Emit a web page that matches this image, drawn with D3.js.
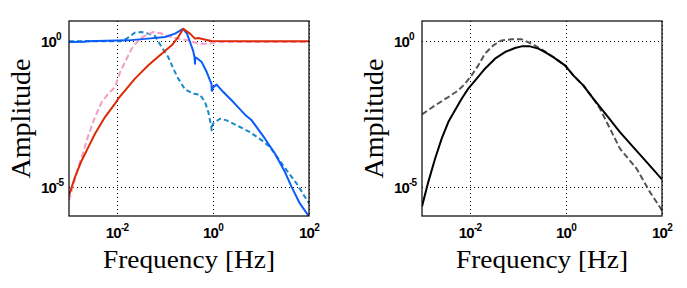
<!DOCTYPE html>
<html>
<head>
<meta charset="utf-8">
<script src="https://cdn.jsdelivr.net/npm/d3@7/dist/d3.min.js"></script>
<style>
  body { margin: 0; background: #fff; }
</style>
</head>
<body>
<svg id="chart" width="687" height="288"></svg>
<script>
// [frequency (Hz), amplitude]

// left panel
const blueSolid = [
    [1e-3, 0.95], [2.1e-3, 0.96], [2.2e-3, 1.0], [0.0169, 1.08], [0.0443, 1.24], [0.1, 1.41],
    [0.162, 1.84], [0.237, 2.69], [0.287, 1.84], [0.332, 0.95], [0.383, 0.49], [0.41, 0.3],
    [0.422, 0.171], [0.425, 0.28], [0.457, 0.267], [0.582, 0.194], [0.74, 0.088], [0.866, 0.0457],
    [0.93, 0.035], [0.94, 0.0207], [0.97, 0.02], [1.0, 0.0263], [1.19, 0.0325], [1.64, 0.0181],
    [2.65, 0.0082], [4.64, 0.00303], [6.4, 0.00193], [12.1, 4.53e-4], [19.6, 1.38e-4],
    [31.6, 3.23e-5], [43.6, 9.8e-6], [64.9, 2.65e-6], [100, 9.7e-7],
];
const blueDashed = [
    [1e-3, 1.0], [0.0116, 1.0], [0.0159, 1.24], [0.0237, 1.99], [0.0327, 2.09], [0.0449, 1.84],
    [0.0619, 1.52], [0.0853, 0.637], [0.117, 0.288], [0.149, 0.115], [0.189, 0.0523],
    [0.261, 0.0224], [0.389, 0.016], [0.536, 0.0147], [0.681, 0.0082], [0.798, 0.00372],
    [0.866, 0.00193], [0.92, 0.0012], [0.94, 8.75e-4], [0.96, 0.0013], [1.01, 0.0015],
    [1.4, 0.0022], [1.93, 0.00193], [3.65, 0.00114], [5.9, 7.6e-4], [10.4, 3.96e-4],
    [15.4, 2.33e-4], [22.9, 9.3e-5], [34.3, 3.69e-5], [55.5, 1.29e-5], [100, 2.71e-6],
];
const redSolid = [
    [1e-3, 5.1e-6], [1.33e-3, 2.17e-5], [1.84e-3, 8.1e-5], [2.53e-3, 2.33e-4], [3.48e-3, 6.7e-4],
    [5.62e-3, 2.5e-3], [9.1e-3, 7.2e-3], [0.0106, 0.0107], [0.0237, 0.0523], [0.0449, 0.15],
    [0.0853, 0.378], [0.138, 0.73], [0.189, 1.41], [0.24, 2.69], [0.332, 1.84], [0.422, 1.24],
    [0.494, 1.3], [0.74, 1.12], [0.94, 1.02], [100, 1.0],
];
const pinkDashed = [
    [1e-3, 3.4e-6], [1.56e-3, 4.8e-5], [1.99e-3, 1.57e-4], [2.53e-3, 5.9e-4], [3.48e-3, 2.5e-3],
    [4.8e-3, 8.2e-3], [6.6e-3, 0.016], [9.1e-3, 0.0269], [0.0116, 0.088], [0.0147, 0.194],
    [0.0202, 0.561], [0.0301, 1.24], [0.0416, 1.7], [0.057, 2.09], [0.0787, 1.93], [0.117, 1.49],
    [0.189, 1.24], [0.305, 1.08], [0.494, 0.83], [0.798, 0.83], [1.19, 0.95], [100, 0.95],
];

// right panel
const blackSolid = [
    [1e-3, 2.14e-6], [1.35e-3, 1.46e-5], [1.87e-3, 9.3e-5], [2.57e-3, 4.53e-4], [3.53e-3, 1.69e-3],
    [4.87e-3, 4.26e-3], [6.7e-3, 0.0107], [9.2e-3, 0.0237], [0.0138, 0.0523], [0.0205, 0.115],
    [0.0332, 0.254], [0.0536, 0.429], [0.0866, 0.589], [0.119, 0.673], [0.178, 0.673],
    [0.265, 0.561], [0.365, 0.429], [0.543, 0.288], [0.953, 0.15], [1.42, 0.0679], [2.29, 0.0308],
    [3.7, 0.0107], [7.05, 2.86e-3], [13.3, 7.6e-4], [25.2, 2.33e-4], [48, 7.1e-5], [100, 1.81e-5],
];
const grayDashed = [
    [1e-3, 3.1e-3], [1.87e-3, 6.3e-3], [3.53e-3, 0.0122], [5.7e-3, 0.0207], [7.9e-3, 0.0352],
    [0.0108, 0.0679], [0.0149, 0.15], [0.0205, 0.378], [0.0306, 0.73], [0.0457, 1.08],
    [0.074, 1.17], [0.119, 1.17], [0.193, 0.83], [0.337, 0.49], [0.543, 0.288], [0.953, 0.15],
    [1.42, 0.0679], [2.29, 0.0308], [3.7, 0.0107], [5.1, 4.87e-3], [8.25, 1e-3], [13.3, 2.06e-4],
    [29.7, 4.2e-5], [56.2, 6.6e-6], [100, 1.56e-6],
];

const xTicks = [1e-2, 1, 1e2];
const xTickExp = ['-2', '0', '2'];
const yTicks = [1e-5, 1];
const yTickExp = ['-5', '0'];

const xDomain = [1e-3, 1e2];
const yDomain = [1e-6, 5];

const plotTop = 21;
const plotBottom = 216;

const panels = [
    {
        left: 69,
        right: 309,
        series: [
            { data: blueDashed, color: '#1a88cc', dash: '5,3' },
            { data: pinkDashed, color: '#f59cc6', dash: '6,3' },
            { data: blueSolid, color: '#0a5cf8', dash: null },
            { data: redSolid, color: '#dd2a06', dash: null },
        ],
    },
    {
        left: 422,
        right: 662,
        series: [
            { data: grayDashed, color: '#555555', dash: '6,3' },
            { data: blackSolid, color: '#000000', dash: null },
        ],
    },
];

const svg = d3.select('#chart');
const tickFont = '"Liberation Sans", Arimo, Arial, sans-serif';
const titleFont = '"Liberation Serif", Tinos, "DejaVu Serif", "Times New Roman", serif';

panels.forEach((p, i) => {
    const x = d3.scaleLog().domain(xDomain).range([p.left, p.right]);
    const y = d3.scaleLog().domain(yDomain).range([plotBottom, plotTop]);
    const g = svg.append('g');

    g.append('clipPath').attr('id', `clip${i}`)
        .append('rect')
        .attr('x', p.left).attr('y', plotTop)
        .attr('width', p.right - p.left).attr('height', plotBottom - plotTop);

    // dotted grid
    const grid = g.append('g')
        .attr('stroke', '#000')
        .attr('stroke-width', 1)
        .attr('stroke-dasharray', '1,3');
    grid.selectAll('.gx').data(xTicks).enter().append('line')
        .attr('x1', d => Math.round(x(d)) + 0.5).attr('x2', d => Math.round(x(d)) + 0.5)
        .attr('y1', plotTop).attr('y2', plotBottom);
    grid.selectAll('.gy').data(yTicks).enter().append('line')
        .attr('x1', p.left).attr('x2', p.right)
        .attr('y1', d => Math.round(y(d)) + 0.5).attr('y2', d => Math.round(y(d)) + 0.5);

    const line = d3.line().x(d => x(d[0])).y(d => y(d[1]));
    const lines = g.append('g').attr('clip-path', `url(#clip${i})`);
    p.series.forEach((s) => {
        lines.append('path')
            .attr('d', line(s.data))
            .attr('fill', 'none')
            .attr('stroke', s.color)
            .attr('stroke-width', 2)
            .attr('stroke-linejoin', 'round')
            .attr('stroke-dasharray', s.dash);
    });

    // frame
    g.append('rect')
        .attr('x', p.left).attr('y', plotTop)
        .attr('width', p.right - p.left).attr('height', plotBottom - plotTop)
        .attr('fill', 'none')
        .attr('stroke', '#000')
        .attr('stroke-width', 1.2);

    // x tick labels
    const xt = g.selectAll('.xt').data(xTicks).enter().append('text')
        .attr('x', d => x(d))
        .attr('y', 238)
        .attr('text-anchor', 'middle')
        .attr('font-family', tickFont)
        .attr('font-weight', 'bold')
        .attr('font-size', 15)
        .attr('letter-spacing', -0.8);
    xt.append('tspan').text('10');
    xt.append('tspan').attr('dy', -7).attr('font-size', 10)
        .text((d, j) => xTickExp[j]);

    // y tick labels
    const yt = g.selectAll('.yt').data(yTicks).enter().append('text')
        .attr('x', p.left - 28)
        .attr('y', d => y(d) + 6)
        .attr('font-family', tickFont)
        .attr('font-weight', 'bold')
        .attr('font-size', 15)
        .attr('letter-spacing', -0.8);
    yt.append('tspan').text('10');
    yt.append('tspan').attr('dy', -7).attr('font-size', 10)
        .text((d, j) => yTickExp[j]);

    // axis titles
    g.append('text')
        .attr('x', (p.left + p.right) / 2)
        .attr('y', 268)
        .attr('text-anchor', 'middle')
        .attr('font-family', titleFont)
        .attr('font-size', 26)
        .attr('textLength', 172)
        .attr('lengthAdjust', 'spacingAndGlyphs')
        .text('Frequency [Hz]');

    g.append('text')
        .attr('transform', `translate(${p.left - 39},${(plotTop + plotBottom) / 2}) rotate(-90)`)
        .attr('text-anchor', 'middle')
        .attr('font-family', titleFont)
        .attr('font-size', 27)
        .attr('textLength', 120)
        .attr('lengthAdjust', 'spacingAndGlyphs')
        .text('Amplitude');
});
</script>
</body>
</html>
